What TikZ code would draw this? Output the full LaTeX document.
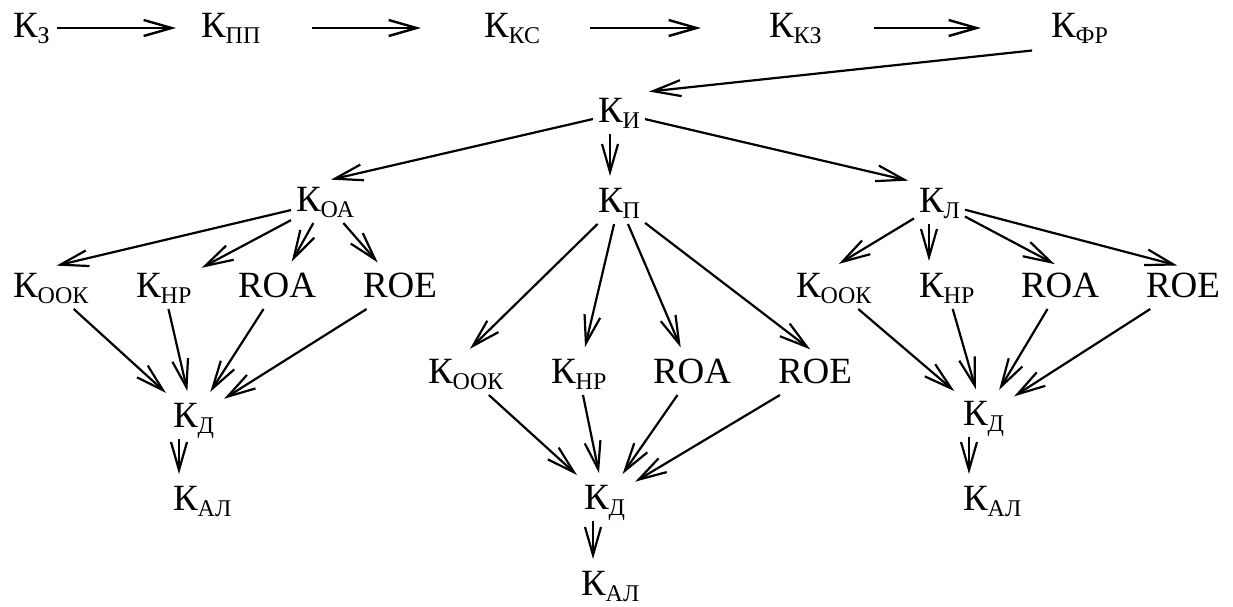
\documentclass[tikz,border=0pt]{standalone}
\usepackage{fontspec}
\setmainfont{Liberation Serif}
\usetikzlibrary{arrows.meta}
\newcommand\Ksub[1]{К\raisebox{-3.4pt}{\fontsize{12pt}{12pt}\selectfont #1}}
\begin{document}
\begin{tikzpicture}[x=0.5pt,y=-0.5pt,
  lbl/.style={inner sep=0pt, outer sep=2.5pt, anchor=base west, xshift=-2pt, text height=12.5pt, text depth=3.5pt, font=\fontsize{18.5pt}{21pt}\selectfont},
  arr/.style={-{Straight Barb[length=14pt,width=8pt]}, line width=1.1pt, shorten >=3pt},
  tarr/.style={-{Straight Barb[length=14pt,width=8pt]}, line width=1.2pt}]
\useasboundingbox (0,0) rectangle (1233,606);
% top row
\node[lbl] (z)  at (12,37)   {\Ksub{З}};
\node[lbl] (pp) at (200,37)  {\Ksub{ПП}};
\node[lbl] (ks) at (483,37)  {\Ksub{КС}};
\node[lbl] (kz) at (768,37)  {\Ksub{КЗ}};
\node[lbl] (fr) at (1050,37) {\Ksub{ФР}};
\node[lbl] (i)  at (597,122) {\Ksub{И}};
\node[lbl] (oa) at (295,211) {\Ksub{ОА}};
\node[lbl] (p)  at (597,212) {\Ksub{П}};
\node[lbl] (l)  at (918,212) {\Ksub{Л}};
% left group
\node[lbl] (ook1) at (12,297)  {\Ksub{ООК}};
\node[lbl] (nr1)  at (135,297) {\Ksub{НР}};
\node[lbl] (roa1) at (237,297) {ROA};
\node[lbl] (roe1) at (362,297) {ROE};
\node[lbl] (d1)   at (172,427) {\Ksub{Д}};
\node[lbl] (al1)  at (172,510) {\Ksub{АЛ}};
% middle group
\node[lbl] (ook2) at (427,383) {\Ksub{ООК}};
\node[lbl] (nr2)  at (550,383) {\Ksub{НР}};
\node[lbl] (roa2) at (652,383) {ROA};
\node[lbl] (roe2) at (777,383) {ROE};
\node[lbl] (d2)   at (583,509) {\Ksub{Д}};
\node[lbl] (al2)  at (580,595) {\Ksub{АЛ}};
% right group
\node[lbl] (ook3) at (795,297)  {\Ksub{ООК}};
\node[lbl] (nr3)  at (918,297)  {\Ksub{НР}};
\node[lbl] (roa3) at (1020,297) {ROA};
\node[lbl] (roe3) at (1145,297) {ROE};
\node[lbl] (d3)   at (962,425)  {\Ksub{Д}};
\node[lbl] (al3)  at (962,510)  {\Ksub{АЛ}};
% top chain
\draw[tarr, shorten <=1pt, shorten >=10pt] (z.east) -- (pp.west);
\draw[tarr, shorten <=23.5pt, shorten >=29pt] (pp.east) -- (ks.west);
\draw[tarr, shorten <=22.5pt, shorten >=31.5pt] (ks.east) -- (kz.west);
\draw[tarr, shorten <=23.5pt, shorten >=32.5pt] (kz.east) -- (fr.west);
\draw[arr, shorten <=7pt, shorten >=2pt] (fr.south west) -- (i.north east);
% level И
\draw[arr] (i) -- (oa.north);
\draw[arr] ([xshift=8.5pt]i.south west) -- ([xshift=8.5pt]p.north west);
\draw[arr] (i) -- (l.north west);
% ОА branch
\draw[arr] (oa) -- (ook1.north);
\draw[arr] (oa) -- (nr1);
\draw[arr] (oa) -- (roa1);
\draw[arr] (oa) -- (roe1);
\draw[arr] (ook1) -- (d1);
\draw[arr] (nr1) -- (d1);
\draw[arr] (roa1) -- (d1);
\draw[arr] (roe1) -- (d1);
\draw[arr] ([xshift=5.5pt]d1.south west) -- ([xshift=5.5pt]al1.north west);
% П branch
\draw[arr] (p) -- (ook2.north);
\draw[arr] (p) -- (nr2);
\draw[arr] (p) -- (roa2);
\draw[arr] (p) -- (roe2.north);
\draw[arr] (ook2) -- (d2);
\draw[arr] (nr2) -- (d2);
\draw[arr] (roa2) -- (d2);
\draw[arr] (roe2) -- (d2);
\draw[arr] ([xshift=7pt]d2.south west) -- ([xshift=8.5pt]al2.north west);
% Л branch
\draw[arr] (l) -- (ook3.north);
\draw[arr] ([xshift=7.5pt]l.south west) -- ([xshift=7.5pt]nr3.north west);
\draw[arr] (l) -- (roa3.north);
\draw[arr] (l) -- (roe3.north);
\draw[arr] (ook3) -- (d3);
\draw[arr] (nr3) -- (d3);
\draw[arr] (roa3) -- (d3);
\draw[arr] (roe3) -- (d3);
\draw[arr] ([xshift=5.5pt]d3.south west) -- ([xshift=5.5pt]al3.north west);
\end{tikzpicture}
\end{document}
